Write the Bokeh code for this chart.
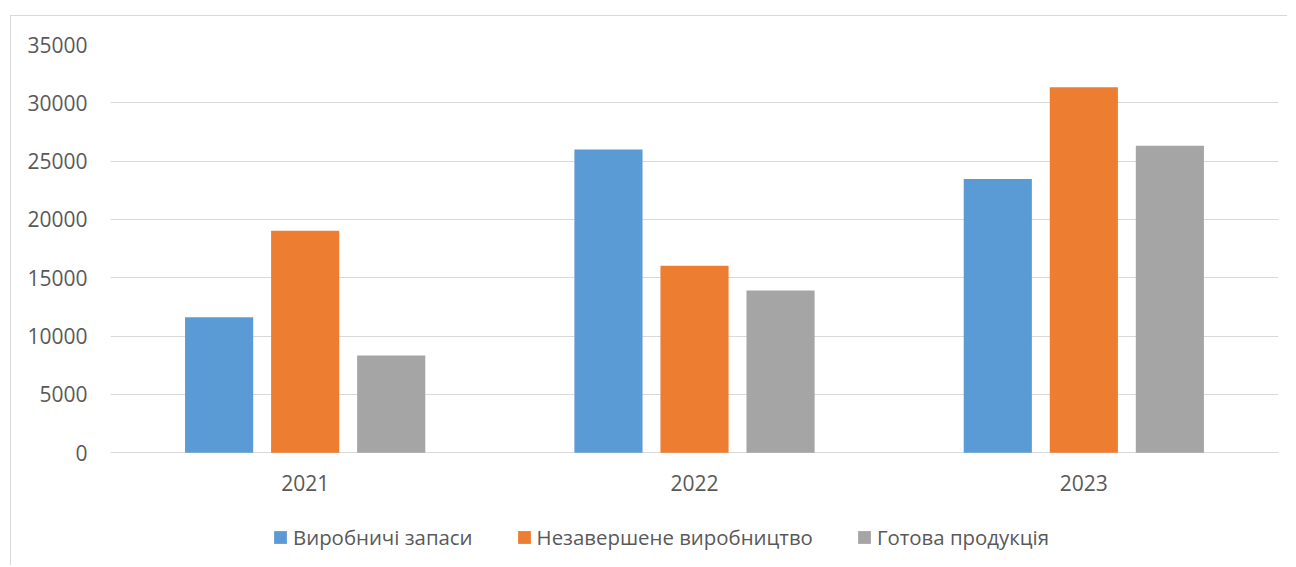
from bokeh.plotting import figure
from bokeh.models import FactorRange, Range1d, FixedTicker, NumeralTickFormatter, Legend, LegendItem, ColumnDataSource
from bokeh.transform import dodge
from bokeh.embed import file_html
from bokeh.resources import INLINE

years = ["2021", "2022", "2023"]
series_names = ["Виробничі запаси", "Незавершене виробництво", "Готова продукція"]
vyrobnychi_zapasy = [11630, 25990, 23470]
nezavershene = [19040, 16040, 31330]
gotova = [8350, 13920, 26330]
y_ticks = [0, 5000, 10000, 15000, 20000, 25000, 30000, 35000]

colors = ["#5B9BD5", "#ED7D31", "#A5A5A5"]
FONT = "Open Sans"
TXT = "#595959"

# frame: y=44 (35000) .. y=566 ; value 0 sits at y=452.3 -> extra room below 0 for labels/legend
Y_TOP = 35000
Y_BOTTOM = -Y_TOP * (566 - 452.3) / (452.3 - 44)

src = ColumnDataSource(dict(year=years, s0=vyrobnychi_zapasy, s1=nezavershene, s2=gotova))

p = figure(x_range=FactorRange(*years, range_padding=0), y_range=Range1d(Y_BOTTOM, Y_TOP),
           width=1277, height=550, output_backend="svg", toolbar_location=None,
           min_border_left=99, min_border_right=10, min_border_top=28, min_border_bottom=0)
p.margin = (15, 0, 0, 10)
p.styles = {"border-left": "1px solid #d9d9d9", "border-top": "1px solid #d9d9d9"}
p.outline_line_color = None

renderers = []
for i, key in enumerate(["s0", "s1", "s2"]):
    r = p.vbar(x=dodge("year", (i - 1) * 0.221, range=p.x_range), top=key, bottom=0, width=0.175,
               source=src, fill_color=colors[i], line_color=None)
    renderers.append(r)

p.xgrid.grid_line_color = None
p.ygrid.ticker = FixedTicker(ticks=y_ticks)
p.ygrid.grid_line_color = "#d9d9d9"
p.ygrid.grid_line_width = 1

p.yaxis.ticker = FixedTicker(ticks=y_ticks)
p.yaxis.formatter = NumeralTickFormatter(format="0")
p.xaxis.fixed_location = 0
for ax in (p.xaxis[0], p.yaxis[0]):
    ax.axis_line_color = None
    ax.major_tick_line_color = None
    ax.minor_tick_line_color = None
    ax.major_label_text_font = FONT
    ax.major_label_text_font_size = "21px"
    ax.major_label_text_color = TXT
p.yaxis.major_label_standoff = 17
p.xaxis.major_label_standoff = 16

legend = Legend(items=[LegendItem(label=series_names[i], renderers=[renderers[i]]) for i in range(3)],
                orientation="horizontal", location=(162, 15),
                glyph_width=16, glyph_height=16, label_standoff=5, spacing=43,
                padding=0, margin=0, border_line_color=None, background_fill_alpha=0,
                label_text_font=FONT, label_text_font_size="20.4px", label_text_color=TXT)
p.add_layout(legend, "center")

open("out.html", "w").write(file_html(p, INLINE))
